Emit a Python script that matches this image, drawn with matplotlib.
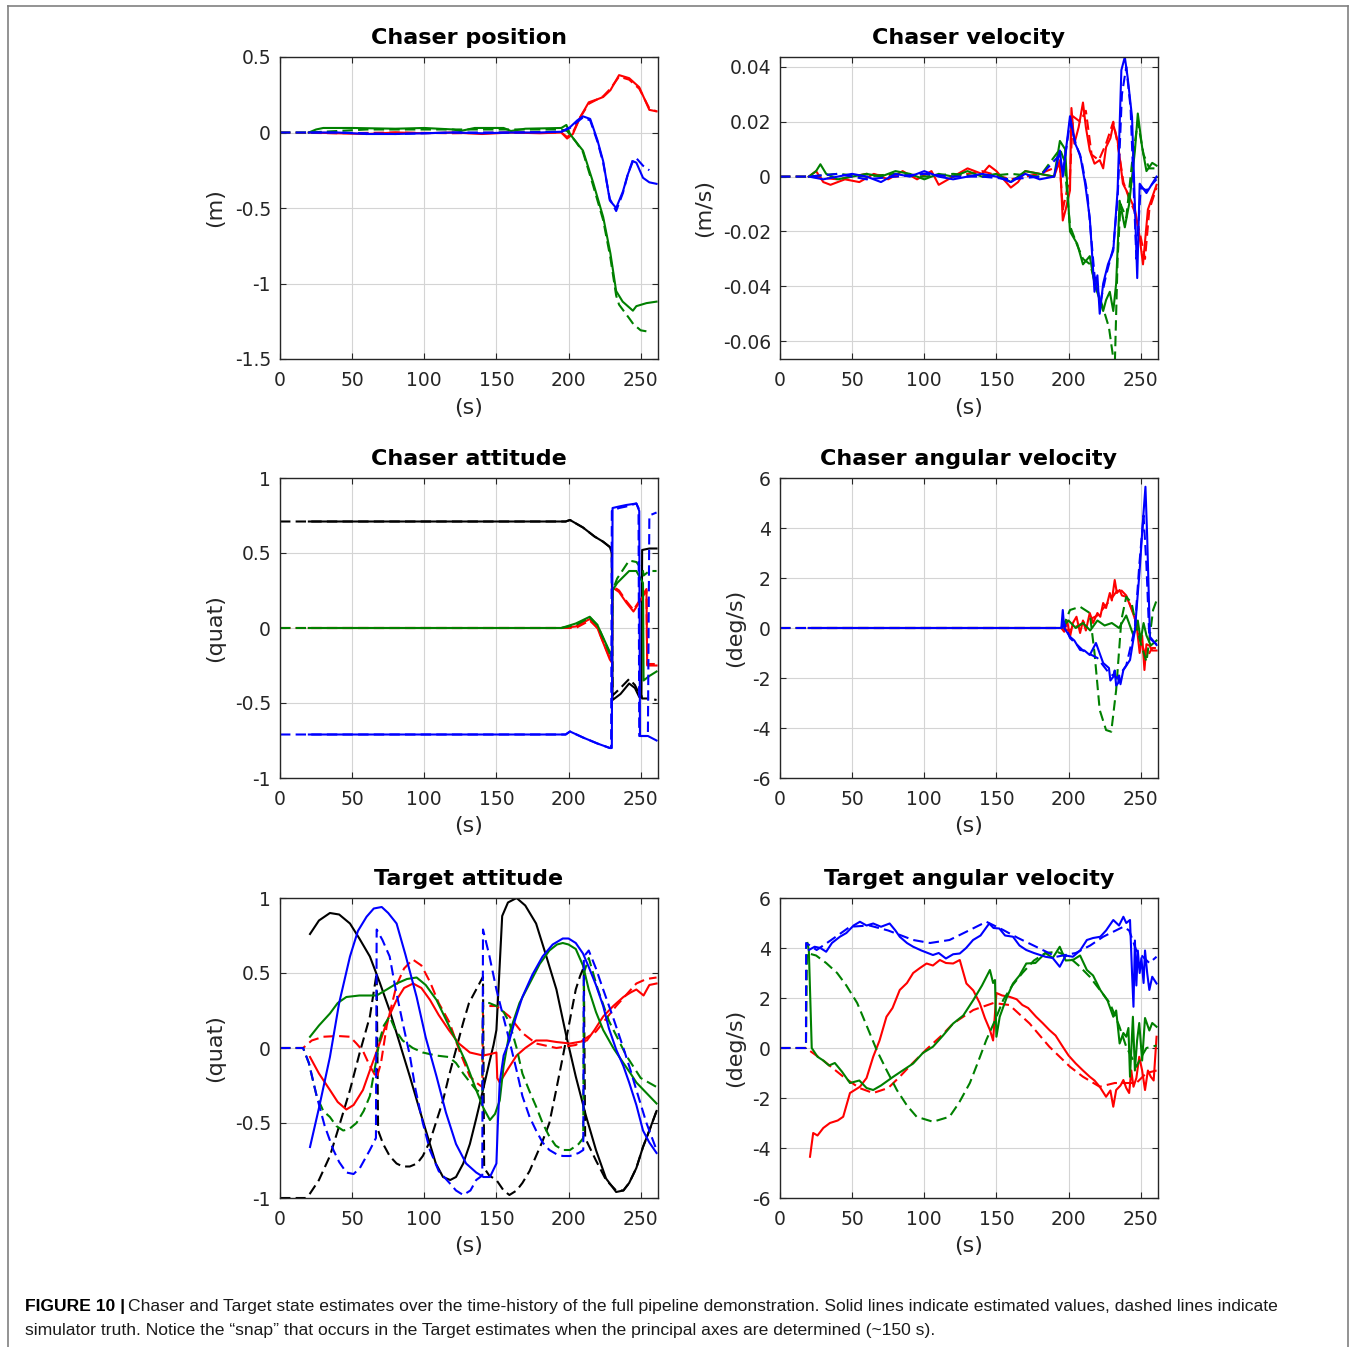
import matplotlib
matplotlib.use("Agg")
import matplotlib.pyplot as plt
from matplotlib.lines import Line2D

plt.rcParams['axes.unicode_minus'] = False
plt.rcParams['font.family'] = ['DejaVu Sans']

RED, GREEN, BLUE, BLACK = '#ff0000', '#008000', '#0000ff', '#000000'

XTICKS = [0, 50, 100, 150, 200, 250]

# ---------------- Chaser position (m) ----------------
pos_red_true_t = [0, 40, 80, 120, 160, 195, 199, 203, 208, 214, 220, 224, 229, 235, 242, 249, 256, 261]
pos_red_true_y = [0, -0.005, 0, -0.005, 0, 0, -0.03, 0, 0.1, 0.19, 0.22, 0.24, 0.29, 0.37, 0.35, 0.29, 0.16, 0.14]
pos_red_est_t = [20, 40, 60, 80, 100, 120, 140, 160, 180, 195, 199, 203, 208, 214, 220, 224, 229, 235, 242, 249, 256, 261]
pos_red_est_y = [0, -0.005, -0.01, 0, -0.005, 0, -0.01, 0, -0.005, 0, -0.04, -0.01, 0.1, 0.2, 0.22, 0.235, 0.28, 0.38, 0.36, 0.30, 0.15, 0.14]

pos_green_true_t = [0, 20, 60, 100, 140, 180, 195, 199, 205, 210, 217, 224, 229, 233, 235, 242, 245, 250, 256]
pos_green_true_y = [0, 0, 0.02, 0.02, 0.02, 0.02, 0.02, 0.01, -0.06, -0.13, -0.35, -0.58, -0.83, -1.08, -1.14, -1.23, -1.27, -1.31, -1.32]
pos_green_est_t = [20, 25, 30, 50, 80, 100, 120, 125, 135, 155, 160, 170, 195, 198.5, 201, 205, 210, 217, 224, 229, 233, 237.5, 244.6, 247, 254, 261]
pos_green_est_y = [0, 0.02, 0.03, 0.03, 0.025, 0.03, 0.02, 0.01, 0.03, 0.03, 0.01, 0.025, 0.03, 0.05, -0.01, -0.06, -0.12, -0.33, -0.56, -0.8, -1.05, -1.12, -1.18, -1.15, -1.13, -1.12]

pos_blue_true_t = [0, 40, 80, 120, 160, 195, 201, 206, 210, 215, 220, 224, 228.6, 233, 237.7, 241, 244.6, 247, 251.6, 256]
pos_blue_true_y = [0, 0, -0.01, 0, 0, 0.005, 0.03, 0.07, 0.1, 0.08, -0.06, -0.2, -0.44, -0.52, -0.4, -0.28, -0.18, -0.17, -0.22, -0.25]
pos_blue_est_t = [20, 40, 60, 80, 100, 120, 140, 160, 180, 195, 201, 206, 210, 215, 220, 224, 228.6, 233, 237.7, 241, 244.6, 247, 251.6, 256, 261]
pos_blue_est_y = [0, 0, -0.01, -0.01, -0.005, 0, -0.005, 0, 0, 0.005, 0.035, 0.08, 0.107, 0.09, -0.05, -0.19, -0.45, -0.5, -0.39, -0.28, -0.19, -0.2, -0.3, -0.33, -0.34]

# ---------------- Chaser velocity (m/s) ----------------
vel_red_true_t = [0, 20, 40, 60, 80, 100, 120, 140, 160, 180, 194, 196, 201, 203, 208, 212, 216, 221, 226, 231, 234, 238, 242, 246, 250, 253, 256, 261]
vel_red_true_y = [0, 0, -0.001, 0.001, 0, 0.001, 0, 0.002, -0.001, 0.001, 0.004, -0.012, 0.0, 0.022, 0.02, 0.024, 0.008, 0.006, 0.012, 0.02, 0.012, -0.002, -0.008, -0.013, -0.022, -0.03, -0.012, -0.004]
vel_red_est_t = [20, 25, 30, 35, 45, 55, 65, 75, 85, 95, 105, 110, 120, 130, 140, 145, 150, 160, 165, 170, 180, 190, 194, 196, 198, 201, 202, 204, 207, 210, 212, 214.7, 218, 221.6, 224, 226, 229, 231, 234, 237.7, 241, 246, 249, 251.6, 255, 261]
vel_red_est_y = [0, 0.002, -0.002, -0.003, -0.001, -0.002, 0.001, -0.001, 0.002, -0.001, 0.002, -0.003, 0, 0.003, 0.001, 0.004, 0.002, -0.004, -0.002, 0.002, 0.001, 0, 0.006, -0.016, -0.012, -0.005, 0.025, 0.012, 0.018, 0.027, 0.018, 0.0095, 0.0047, 0.006, 0.003, 0.0107, 0.014, 0.019, 0.013, -0.0026, -0.006, -0.012, -0.021, -0.032, -0.012, -0.003]

vel_green_true_t = [0, 20, 40, 60, 80, 100, 120, 140, 160, 180, 194, 197, 201, 206, 210, 215, 219, 224, 228, 232, 234, 236, 240, 244, 248, 252, 256, 261]
vel_green_true_y = [0, 0, 0.001, 0, 0.001, 0, 0.001, 0, 0.001, 0, 0.01, 0.006, -0.018, -0.025, -0.03, -0.032, -0.04, -0.048, -0.055, -0.07, -0.03, -0.01, -0.015, 0.005, 0.02, 0.008, 0.003, 0.003]
vel_green_est_t = [20, 25, 28, 32, 40, 50, 60, 70, 80, 90, 100, 110, 120, 130, 140, 150, 160, 170, 180, 190, 194, 197.6, 201, 206, 210, 214.7, 218, 221, 224, 226, 228.6, 231, 233, 235.4, 239, 242, 246, 248, 251, 254, 258, 261]
vel_green_est_y = [0, 0.002, 0.0045, 0.001, -0.001, 0, 0.001, 0, 0.002, 0.001, -0.001, 0.001, 0, 0.002, 0, 0.001, -0.002, 0.002, 0.001, 0, 0.013, 0.01, -0.02, -0.0245, -0.032, -0.029, -0.039, -0.044, -0.049, -0.045, -0.042, -0.049, -0.039, -0.0088, -0.0185, -0.01, 0.0095, 0.023, 0.0107, 0.002, 0.005, 0.004]

vel_blue_true_t = [0, 20, 40, 60, 80, 100, 120, 140, 160, 180, 194, 196, 201, 205, 209, 213, 218, 222, 226, 231, 234, 237, 240, 243, 247, 250, 254, 261]
vel_blue_true_y = [0, 0, 0.001, -0.001, 0, 0.001, 0, 0, -0.001, 0, 0.008, 0.001, 0.02, 0.012, 0.006, -0.006, -0.036, -0.046, -0.036, -0.026, -0.008, 0.03, 0.04, 0.025, -0.03, -0.004, -0.005, -0.001]
vel_blue_est_t = [20, 30, 40, 50, 60, 70, 80, 90, 100, 110, 120, 130, 140, 150, 160, 170, 180, 190, 194, 196, 201, 204.6, 208, 211.5, 214.7, 218, 220, 221.6, 224, 227.3, 231, 234, 236.6, 239, 241, 244, 247.6, 249.3, 254, 261]
vel_blue_est_y = [0, -0.001, 0, 0.001, 0, -0.002, 0.001, 0, 0.002, 0, -0.001, 0, 0.001, 0, -0.002, 0.001, -0.001, 0, 0.0095, 0, 0.022, 0.012, 0.008, -0.0026, -0.015, -0.042, -0.036, -0.05, -0.039, -0.032, -0.027, -0.005, 0.0388, 0.0436, 0.036, 0.0217, -0.037, -0.0026, -0.006, 0]

# ---------------- Chaser attitude (quat) ----------------
att_black_true_t = [0, 198, 201, 210, 218, 224, 228.6, 230, 230.5, 236, 242, 246, 249, 250.5, 251, 256, 261]
att_black_true_y = [0.71, 0.71, 0.72, 0.67, 0.61, 0.575, 0.54, 0.5, -0.45, -0.40, -0.34, -0.38, -0.44, -0.45, -0.47, -0.47, -0.48]
att_black_est_t = [20, 198, 201, 210, 218, 224, 228.6, 230, 230.5, 236, 242, 246, 249, 250.5, 251, 256, 261]
att_black_est_y = [0.71, 0.71, 0.72, 0.67, 0.61, 0.575, 0.54, 0.5, -0.48, -0.44, -0.37, -0.40, -0.46, -0.46, 0.52, 0.53, 0.53]

att_green_true_t = [0, 195, 205, 214.7, 220, 228.6, 230, 230.5, 233.7, 242, 247, 251.6, 252, 256, 261]
att_green_true_y = [0, 0, 0.02, 0.07, 0.02, -0.17, -0.22, 0.25, 0.33, 0.45, 0.44, 0.38, 0.35, 0.38, 0.38]
att_green_est_t = [20, 195, 205, 214.7, 220, 228.6, 230, 230.5, 233.7, 242, 247, 251.6, 252, 256, 261]
att_green_est_y = [0, 0, 0.03, 0.075, 0.02, -0.16, -0.2, 0.25, 0.30, 0.38, 0.38, 0.30, -0.35, -0.32, -0.29]

att_red_true_t = [0, 195, 205, 214.7, 220, 228.6, 230, 230.5, 235, 240, 245, 249, 254, 254.5, 261]
att_red_true_y = [0, 0, 0.0, 0.05, 0.0, -0.2, -0.22, 0.28, 0.25, 0.18, 0.12, 0.18, 0.26, -0.24, -0.24]
att_red_est_t = [20, 195, 205, 214.7, 220, 228.6, 230, 230.5, 235, 240, 245, 249, 254, 254.5, 261]
att_red_est_y = [0, 0, 0.01, 0.06, 0.0, -0.21, -0.23, 0.27, 0.24, 0.17, 0.11, 0.17, 0.25, -0.25, -0.25]

att_blue_true_t = [0, 198, 201, 210, 220, 228.6, 229.5, 230, 235, 240, 247, 248.5, 249, 255, 256, 261]
att_blue_true_y = [-0.71, -0.71, -0.69, -0.73, -0.77, -0.80, -0.80, 0.78, 0.80, 0.81, 0.83, 0.80, -0.72, -0.72, 0.75, 0.77]
att_blue_est_t = [20, 198, 201, 210, 220, 228.6, 230, 230.5, 235, 240, 247, 249, 249.5, 255, 261]
att_blue_est_y = [-0.71, -0.71, -0.69, -0.73, -0.77, -0.80, -0.80, 0.80, 0.81, 0.82, 0.83, 0.78, -0.72, -0.72, -0.75]

# ---------------- Chaser angular velocity (deg/s) ----------------
angv_red_true_t = [0, 195, 200, 210, 220, 230, 235, 240, 245, 250, 254, 258, 261]
angv_red_true_y = [0, 0, -0.1, 0.2, 0.5, 1.2, 1.6, 1.3, 0.6, -0.5, -1.2, -0.8, -0.8]
angv_red_est_t = [20, 195, 197, 199, 201, 203, 205.5, 208, 210, 212, 214.7, 217, 220, 222, 224, 226, 228.6, 230, 232, 233.5, 235.4, 237, 240, 242, 244.6, 247, 249.3, 251, 252.6, 254, 256, 258, 261]
angv_red_est_y = [0, 0, -0.15, 0.3, -0.35, 0.2, 0.45, -0.2, 0.3, -0.1, 0.6, 0.2, 0.6, 0.45, 1.0, 0.8, 1.4, 1.1, 1.92, 1.4, 1.52, 1.3, 1.25, 1.0, 0.6, 0.2, -1.0, -0.3, -1.68, -0.65, -0.7, -0.9, -0.9]

angv_green_true_t = [0, 195, 198, 201, 208, 214.7, 218, 221.6, 226, 229.6, 233, 236.6, 240, 243.7, 247, 250, 254, 258.6, 261]
angv_green_true_y = [0, 0, 0.3, 0.72, 0.85, 0.6, -1.0, -3.28, -4.08, -4.15, -2.48, 0.32, 1.25, 1.0, 0.05, -0.6, -1.35, 0.72, 1.1]
angv_green_est_t = [20, 195, 200, 205, 210, 215, 220, 225, 230, 235, 240, 245, 248, 250, 252, 254, 257, 261]
angv_green_est_y = [0, 0, 0.3, 0.0, 0.2, -0.1, 0.3, 0.1, 0.2, 0.0, 0.5, -0.3, 0.3, -0.5, 0.2, -0.3, -0.7, -0.5]

angv_blue_true_t = [0, 195, 197, 201, 210, 220, 228, 234, 240, 246, 249, 252, 254, 256, 261]
angv_blue_true_y = [0, 0, 0.2, -0.4, -0.9, -1.2, -1.8, -2.0, -1.5, 0.0, 2.5, 4.5, 2.5, -0.4, -0.65]
angv_blue_est_t = [20, 195, 196, 197, 201, 204, 208, 211, 214.7, 219, 224, 228, 229, 231, 232, 233, 234.4, 235, 236, 238, 242.6, 246, 249.3, 251.6, 253.3, 254.5, 256.4, 261]
angv_blue_est_y = [0, 0, 0.72, 0, -0.35, -0.5, -0.88, -0.9, -1.08, -0.6, -1.4, -1.6, -2.1, -1.95, -1.7, -2.3, -2.2, -1.9, -2.25, -1.68, -1.28, -0.08, 2.32, 4.32, 5.65, 3.65, -0.35, -0.68]

# ---------------- Target attitude (quat) ----------------
tatt_black_true_t = [0, 18, 20.8, 27, 34.6, 41, 48.5, 55, 62.3, 67, 68, 71.5, 76, 80.8, 85, 90, 95, 99, 104, 108, 113, 117, 122, 127, 131, 136, 140.7,
                     141.5, 145, 150, 155, 159, 164, 168, 173, 177.5, 182, 186.7, 191, 196, 200, 205, 208, 210.6, 211.5, 219, 226, 233, 238, 242, 247, 251.6, 256, 261]
tatt_black_true_y = [-1, -1, -0.97, -0.88, -0.72, -0.52, -0.28, -0.04, 0.21, 0.5, -0.55, -0.64, -0.72, -0.77, -0.79, -0.79, -0.77, -0.72, -0.62, -0.5, -0.35, -0.19, -0.01, 0.17, 0.3, 0.39, 0.475,
                     -0.8, -0.85, -0.88, -0.95, -0.98, -0.95, -0.9, -0.82, -0.72, -0.62, -0.5, -0.3, -0.06, 0.14, 0.39, 0.48, 0.54, -0.6, -0.75, -0.88, -0.95, -0.95, -0.9, -0.8, -0.66, -0.55, -0.42]
tatt_black_est_t = [20.8, 27, 34.6, 41, 48.5, 55, 62.3, 69, 76, 83, 90, 97, 103.9, 108, 113, 118, 122, 127, 131.6, 136, 140.7, 145, 148, 150, 152, 154, 158,
                    164, 170, 177.5, 184, 191.6, 198, 205, 212, 219, 226, 233, 238, 242, 247, 251.6, 256, 261]
tatt_black_est_y = [0.76, 0.85, 0.90, 0.89, 0.83, 0.73, 0.61, 0.44, 0.25, 0.03, -0.19, -0.42, -0.64, -0.77, -0.86, -0.88, -0.86, -0.77, -0.64, -0.47, -0.28, -0.1, 0.02, 0.12, 0.5, 0.88, 0.97,
                    1.0, 0.95, 0.83, 0.63, 0.39, 0.1, -0.19, -0.45, -0.68, -0.87, -0.96, -0.95, -0.9, -0.8, -0.66, -0.55, -0.42]

tatt_blue_true_t = [0, 16, 20, 25.4, 31, 37, 41, 46, 51, 55.4, 60, 62.3, 66.5, 67, 71, 76, 80, 85, 90, 94, 99, 103.9, 110, 117.5, 122, 127, 132, 136, 140.2,
                    140.7, 145, 150, 155, 159, 164, 168, 173, 177.5, 182, 186.7, 192, 196, 201, 207, 210.2, 210.6, 214, 219, 224, 231, 238, 243, 247, 254, 261]
tatt_blue_true_y = [0, 0, -0.1, -0.32, -0.52, -0.68, -0.76, -0.83, -0.84, -0.8, -0.72, -0.68, -0.6, 0.79, 0.72, 0.61, 0.4, 0.17, -0.05, -0.28, -0.5, -0.68, -0.82, -0.9, -0.95, -0.98, -0.95, -0.88, -0.85,
                    0.79, 0.62, 0.39, 0.2, 0.05, -0.15, -0.32, -0.46, -0.55, -0.63, -0.68, -0.71, -0.72, -0.72, -0.7, -0.68, 0.61, 0.65, 0.53, 0.39, 0.2, 0.0, -0.15, -0.28, -0.5, -0.68]
tatt_blue_est_t = [20.8, 27, 34.6, 41, 48.5, 54, 60, 65, 70.5, 75, 80.8, 87, 94.7, 101, 108.5, 115, 122, 129, 136, 141, 145.5, 150, 151, 152.3, 155, 159, 163,
                   168, 175, 182, 189, 196, 200, 205, 210, 214, 219, 224, 228, 233, 238, 242, 247, 251.6, 256, 261]
tatt_blue_est_y = [-0.66, -0.4, -0.06, 0.3, 0.61, 0.78, 0.875, 0.93, 0.94, 0.9, 0.83, 0.62, 0.34, 0.07, -0.19, -0.43, -0.64, -0.77, -0.83, -0.86, -0.86, -0.77, -0.5, -0.23, -0.05, 0.05, 0.19,
                   0.34, 0.49, 0.61, 0.69, 0.73, 0.73, 0.70, 0.63, 0.54, 0.42, 0.28, 0.13, -0.01, -0.12, -0.23, -0.38, -0.55, -0.63, -0.70]

tatt_green_true_t = [0, 16, 20, 25.4, 30, 34.6, 39, 43.8, 48, 53, 58, 62.3, 66, 69, 72, 76, 80, 85, 92, 99, 108, 117, 122, 127, 131, 136, 140.2,
                     140.7, 145, 150, 155, 159, 164, 168, 173, 177.5, 182, 186.7, 191, 196, 201, 207, 210.2, 210.6, 214, 220, 228, 240, 250, 261]
tatt_green_true_y = [0, 0, -0.1, -0.32, -0.42, -0.46, -0.52, -0.55, -0.54, -0.5, -0.42, -0.32, -0.12, 0.05, 0.15, 0.21, 0.12, 0.05, 0.0, -0.03, -0.05, -0.06, -0.1, -0.17, -0.22, -0.28, -0.3,
                     0.3, 0.3, 0.28, 0.24, 0.17, 0.0, -0.17, -0.29, -0.39, -0.5, -0.59, -0.65, -0.68, -0.68, -0.64, -0.6, 0.5, 0.6, 0.4, 0.18, -0.05, -0.2, -0.26]
tatt_green_est_t = [20.8, 27, 34.6, 40, 46, 55, 67, 74, 80.8, 88, 94.7, 101, 108.5, 115, 122, 129, 136, 141, 145.5, 149, 152.3, 155, 159, 166,
                    173, 180, 186.7, 192, 196, 200, 205, 210, 214, 219, 224, 231, 238, 243, 247, 254, 261]
tatt_green_est_y = [0.075, 0.15, 0.23, 0.3, 0.34, 0.35, 0.35, 0.39, 0.43, 0.46, 0.47, 0.42, 0.32, 0.19, 0.05, -0.1, -0.28, -0.4, -0.48, -0.44, -0.35, -0.12, 0.1, 0.3,
                    0.43, 0.56, 0.65, 0.69, 0.70, 0.69, 0.66, 0.55, 0.39, 0.24, 0.12, 0.0, -0.1, -0.17, -0.23, -0.3, -0.37]

tatt_red_true_t = [0, 16, 22, 30, 40, 48.5, 53, 57.5, 62.3, 67, 70, 74, 80.8, 86, 92, 98, 104, 110, 117.5, 124, 131.6, 136, 140.2,
                   140.7, 150, 159, 168, 177.5, 191.6, 205, 219, 233, 247, 254, 261]
tatt_red_true_y = [0, 0, 0.05, 0.075, 0.08, 0.075, 0.03, -0.02, -0.12, -0.2, -0.1, 0.15, 0.42, 0.53, 0.59, 0.55, 0.44, 0.3, 0.17, -0.01, -0.19, -0.23, -0.26,
                   0.28, 0.28, 0.21, 0.1, 0.03, 0.0, 0.02, 0.11, 0.28, 0.43, 0.46, 0.47]
tatt_red_est_t = [20.8, 27, 34.6, 40, 46, 51, 57.5, 63, 69, 75, 80.8, 86, 92.3, 98, 104, 110, 117, 124, 131.6, 140.7, 146, 150, 150.6, 152.3, 158, 164, 170,
                  177.5, 185, 191.6, 201, 207, 212.7, 218, 224, 231, 238, 243, 247, 252, 256, 261]
tatt_red_est_y = [-0.06, -0.17, -0.28, -0.36, -0.41, -0.38, -0.28, -0.13, 0.03, 0.2, 0.32, 0.4, 0.43, 0.4, 0.32, 0.22, 0.12, 0.03, -0.03, -0.05, -0.04, -0.03, -0.2, -0.23, -0.14, -0.05, 0.0,
                  0.05, 0.05, 0.04, 0.03, 0.04, 0.05, 0.12, 0.21, 0.28, 0.34, 0.37, 0.39, 0.35, 0.42, 0.43]

# ---------------- Target angular velocity (deg/s) ----------------
tav_red_true_t = [0, 18, 30, 45, 55, 64.6, 75, 83, 92, 101.6, 112, 120, 134, 148, 159, 173, 186.7, 201, 210, 221.6, 232, 247, 254, 261]
tav_red_true_y = [0, 0, -0.5, -1.2, -1.6, -1.8, -1.6, -1.15, -0.6, -0.05, 0.5, 0.98, 1.52, 1.8, 1.72, 0.98, 0.05, -0.75, -1.15, -1.55, -1.4, -1.4, -1.0, -0.9]
tav_red_est_t = [20.8, 23, 26, 30, 34.6, 40, 43.8, 48.5, 55.4, 60, 64.6, 69, 73.8, 78, 83, 88, 92.3, 97, 101.6, 106, 110.8, 115, 120, 124.6, 129.2, 134, 138.4, 142, 145.5, 147.7, 150, 154, 159, 164, 168, 172, 177.5, 182, 186.7, 191, 196, 200, 205, 210, 214.7, 218, 221.6, 226, 229, 231, 233, 236, 238, 240, 242, 243.5, 245, 247, 249, 251, 253, 255, 257, 259, 261]
tav_red_est_y = [-4.35, -3.4, -3.5, -3.2, -3.0, -2.9, -2.75, -1.8, -1.55, -1.2, -0.35, 0.3, 1.25, 1.6, 2.32, 2.6, 3.0, 3.2, 3.38, 3.3, 3.52, 3.4, 3.38, 3.52, 2.58, 2.3, 1.8, 1.2, 0.72, 0.3, 2.2, 2.1, 2.05, 1.95, 1.72, 1.6, 1.25, 1.0, 0.72, 0.5, 0.05, -0.3, -0.62, -0.9, -1.15, -1.3, -1.55, -1.95, -1.7, -2.35, -1.68, -1.5, -1.28, -1.6, -1.8, -0.9, -1.55, -1.2, -0.35, -0.9, -1.68, -0.9, -1.15, -1.3, 0.45]

tav_green_true_t = [0, 18, 18.7, 25, 32, 39.6, 46, 53.5, 60, 67, 74, 81, 88, 94.7, 106, 117.5, 124, 131.6, 137, 143, 149, 154.7, 161, 168, 176, 184, 192, 200, 207, 214.7, 222, 228.6, 235, 240, 244, 247, 250, 254, 261]
tav_green_true_y = [0, 0, 3.8, 3.7, 3.4, 3.0, 2.5, 1.8, 0.9, -0.08, -0.9, -1.68, -2.3, -2.75, -2.95, -2.75, -2.2, -1.4, -0.6, 0.32, 1.1, 1.92, 2.5, 3.0, 3.5, 3.8, 3.85, 3.65, 3.3, 2.85, 2.3, 1.8, 0.9, 0.05, -0.4, -0.75, -0.4, 0.0, 0.1]
tav_green_est_t = [19, 20, 22, 26, 30, 34, 38, 43, 48.5, 55, 60, 64.6, 70, 78.5, 85, 92.3, 99, 106, 113, 120, 127, 134, 140, 145.5, 147.7, 149, 150, 152.3, 157, 161.5, 166, 170.7, 177, 184, 189, 193.9, 198, 203, 208, 212.7, 217, 222, 227, 231, 233, 235.4, 238, 240, 241.5, 242.6, 244.6, 246, 247.5, 249, 251, 253, 256, 258, 261]
tav_green_est_y = [4.2, 3.9, 0.0, -0.35, -0.5, -0.7, -0.6, -0.95, -1.4, -1.3, -1.6, -1.68, -1.5, -1.15, -0.9, -0.62, -0.2, 0.05, 0.5, 0.98, 1.3, 1.92, 2.5, 3.12, 2.6, 2.72, 0.45, 1.25, 2.0, 2.58, 2.9, 3.38, 3.4, 3.8, 3.6, 4.05, 3.5, 3.52, 3.7, 3.12, 2.9, 2.32, 1.9, 1.25, 1.5, 0.18, 0.6, 0.45, 0.8, -1.15, 1.25, -0.9, 0.3, 1.0, -0.5, 1.2, 0.7, 1.0, 0.85]

tav_blue_true_t = [0, 18, 18.1, 25.4, 35, 48.5, 62, 75, 92.3, 104, 117.5, 131.6, 143, 154.7, 165, 177.5, 191.6, 205, 215, 224, 238, 242, 247, 256, 261]
tav_blue_true_y = [0, 0, 4.2, 3.92, 4.3, 4.85, 4.9, 4.7, 4.32, 4.2, 4.32, 4.72, 5.05, 4.72, 4.4, 4.05, 3.65, 3.8, 4.1, 4.45, 4.85, 4.7, 3.9, 3.4, 3.65]
tav_blue_est_t = [20, 24, 28, 32, 36, 41.5, 46, 51, 55.4, 60, 64.6, 70, 76, 80, 83, 88, 92.3, 98, 106, 110, 115, 120, 124.6, 129, 133.8, 139, 145, 148, 152, 156, 161.5, 166, 170.7, 176, 184, 189, 193.9, 198, 203, 208, 212.7, 217, 222, 226, 231, 235, 238, 240, 242.6, 244, 245, 246, 247, 248, 249.3, 250.5, 252, 253, 254.5, 256, 258, 261]
tav_blue_est_y = [3.92, 4.05, 4.0, 3.85, 4.2, 4.45, 4.6, 4.9, 5.05, 4.9, 4.98, 4.85, 4.98, 4.7, 4.45, 4.2, 4.05, 3.9, 3.72, 3.8, 3.58, 3.75, 3.78, 4.0, 4.32, 4.5, 4.98, 4.8, 4.78, 4.5, 4.45, 4.1, 3.92, 3.8, 3.65, 3.6, 3.25, 3.7, 3.65, 3.9, 4.32, 4.4, 4.45, 4.7, 5.12, 4.9, 5.25, 5.0, 5.12, 3.0, 1.65, 4.3, 2.5, 3.9, 3.0, 3.6, 2.6, 3.9, 3.0, 2.32, 2.85, 2.58]


def pair(ax, tt, yt, te, ye, color):
    ax.plot(tt, yt, color=color, lw=1.5, ls=(0, (5, 2.5)))
    ax.plot(te, ye, color=color, lw=1.5)


def style(ax, title, ylabel, ylim, yticks, ylabels, ylabel_x):
    ax.set_xlim(0, 262)
    ax.set_ylim(*ylim)
    ax.set_xticks(XTICKS)
    ax.set_xticklabels([str(v) for v in XTICKS])
    ax.set_yticks(yticks)
    ax.set_yticklabels(ylabels)
    ax.grid(True, color='#d4d4d4', lw=0.8)
    ax.set_axisbelow(True)
    ax.tick_params(direction='in', top=True, right=True, length=4, width=0.8,
                   labelsize=13.5, labelcolor='#262626', color='#262626')
    ax.tick_params(axis='x', pad=8.5)
    ax.tick_params(axis='y', pad=6.5)
    for s in ax.spines.values():
        s.set_color('#262626')
        s.set_linewidth(1.0)
    ax.set_title(title, fontsize=16, fontweight='bold', pad=9.5)
    ax.set_xlabel('(s)', fontsize=16, color='#262626')
    ax.xaxis.set_label_coords(0.5, -0.128)
    ax.set_ylabel(ylabel, fontsize=16, color='#262626')
    ax.yaxis.set_label_coords(ylabel_x, 0.5)


fig = plt.figure(figsize=(13.54, 13.47), dpi=100)
W, H = 1354, 1347
lefts = [280 / W, 780 / W]
width = 378 / W
rows = [(57, 359), (478, 778), (898, 1198)]
axs = []
for top, bot in rows:
    row = []
    for lx in lefts:
        row.append(fig.add_axes([lx, 1 - bot / H, width, (bot - top) / H]))
    axs.append(row)

# Chaser position
ax = axs[0][0]
pair(ax, pos_red_true_t, pos_red_true_y, pos_red_est_t, pos_red_est_y, RED)
pair(ax, pos_green_true_t, pos_green_true_y, pos_green_est_t, pos_green_est_y, GREEN)
pair(ax, pos_blue_true_t, pos_blue_true_y, pos_blue_est_t, pos_blue_est_y, BLUE)
style(ax, 'Chaser position', '(m)', (-1.5, 0.5), [-1.5, -1, -0.5, 0, 0.5],
      ['-1.5', '-1', '-0.5', '0', '0.5'], -0.145)

# Chaser velocity
ax = axs[0][1]
pair(ax, vel_red_true_t, vel_red_true_y, vel_red_est_t, vel_red_est_y, RED)
pair(ax, vel_green_true_t, vel_green_true_y, vel_green_est_t, vel_green_est_y, GREEN)
pair(ax, vel_blue_true_t, vel_blue_true_y, vel_blue_est_t, vel_blue_est_y, BLUE)
style(ax, 'Chaser velocity', '(m/s)', (-0.0665, 0.0436), [-0.06, -0.04, -0.02, 0, 0.02, 0.04],
      ['-0.06', '-0.04', '-0.02', '0', '0.02', '0.04'], -0.175)

# Chaser attitude
ax = axs[1][0]
pair(ax, att_black_true_t, att_black_true_y, att_black_est_t, att_black_est_y, BLACK)
pair(ax, att_red_true_t, att_red_true_y, att_red_est_t, att_red_est_y, RED)
pair(ax, att_green_true_t, att_green_true_y, att_green_est_t, att_green_est_y, GREEN)
pair(ax, att_blue_true_t, att_blue_true_y, att_blue_est_t, att_blue_est_y, BLUE)
style(ax, 'Chaser attitude', '(quat)', (-1, 1), [-1, -0.5, 0, 0.5, 1],
      ['-1', '-0.5', '0', '0.5', '1'], -0.145)

# Chaser angular velocity
ax = axs[1][1]
pair(ax, angv_red_true_t, angv_red_true_y, angv_red_est_t, angv_red_est_y, RED)
pair(ax, angv_green_true_t, angv_green_true_y, angv_green_est_t, angv_green_est_y, GREEN)
pair(ax, angv_blue_true_t, angv_blue_true_y, angv_blue_est_t, angv_blue_est_y, BLUE)
style(ax, 'Chaser angular velocity', '(deg/s)', (-6, 6), [-6, -4, -2, 0, 2, 4, 6],
      ['-6', '-4', '-2', '0', '2', '4', '6'], -0.093)

# Target attitude
ax = axs[2][0]
pair(ax, tatt_black_true_t, tatt_black_true_y, tatt_black_est_t, tatt_black_est_y, BLACK)
pair(ax, tatt_red_true_t, tatt_red_true_y, tatt_red_est_t, tatt_red_est_y, RED)
pair(ax, tatt_green_true_t, tatt_green_true_y, tatt_green_est_t, tatt_green_est_y, GREEN)
pair(ax, tatt_blue_true_t, tatt_blue_true_y, tatt_blue_est_t, tatt_blue_est_y, BLUE)
style(ax, 'Target attitude', '(quat)', (-1, 1), [-1, -0.5, 0, 0.5, 1],
      ['-1', '-0.5', '0', '0.5', '1'], -0.145)

# Target angular velocity
ax = axs[2][1]
pair(ax, tav_red_true_t, tav_red_true_y, tav_red_est_t, tav_red_est_y, RED)
pair(ax, tav_green_true_t, tav_green_true_y, tav_green_est_t, tav_green_est_y, GREEN)
pair(ax, tav_blue_true_t, tav_blue_true_y, tav_blue_est_t, tav_blue_est_y, BLUE)
style(ax, 'Target angular velocity', '(deg/s)', (-6, 6), [-6, -4, -2, 0, 2, 4, 6],
      ['-6', '-4', '-2', '0', '2', '4', '6'], -0.093)

# page frame
fc = '#808080'
fig.add_artist(Line2D([8 / W, 8 / W], [0, 1 - 6 / H], color=fc, lw=1.2))
fig.add_artist(Line2D([8 / W, 1348 / W], [1 - 6 / H, 1 - 6 / H], color=fc, lw=1.2))
fig.add_artist(Line2D([1348 / W, 1348 / W], [0, 1 - 6 / H], color=fc, lw=1.2))

# caption
cap_font = ['Liberation Sans Narrow', 'Liberation Sans', 'DejaVu Sans']
line1 = ("Chaser and Target state estimates over the time-history of the full pipeline demonstration. "
         "Solid lines indicate estimated values, dashed lines indicate")
line2 = ("simulator truth. Notice the \u201csnap\u201d that occurs in the Target estimates when the "
         "principal axes are determined (~150 s).")
bold = fig.text(25 / W, 1 - 1306 / H, 'FIGURE 10 |', fontsize=12.6, fontweight='bold',
                family=cap_font, va='center', ha='left')
fig.canvas.draw()
bb = bold.get_window_extent(renderer=fig.canvas.get_renderer())
fig.text(bb.x1 / W + 3 / W, 1 - 1306 / H, line1, fontsize=12.6, family=cap_font,
         va='center', ha='left', color='#1a1a1a')
fig.text(25 / W, 1 - 1331 / H, line2, fontsize=12.6, family=cap_font,
         va='center', ha='left', color='#1a1a1a')

fig.savefig('out.png', dpi=100)
